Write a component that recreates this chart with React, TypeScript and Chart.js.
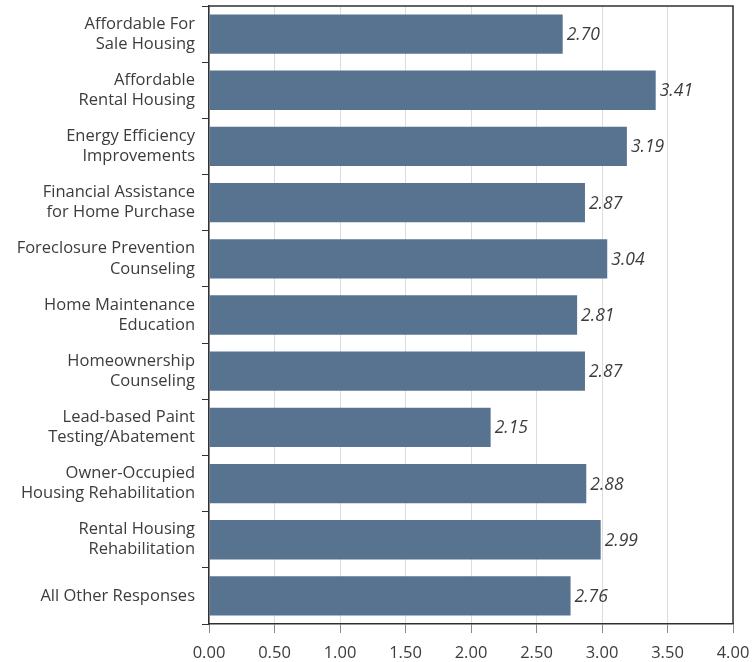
import React, { useEffect, useRef } from "react";
import { Chart, registerables } from "chart.js";

Chart.register(...registerables);

const categories: string[][] = [
  ["Affordable For", "Sale Housing"],
  ["Affordable", "Rental Housing"],
  ["Energy Efficiency", "Improvements"],
  ["Financial Assistance", "for Home Purchase"],
  ["Foreclosure Prevention", "Counseling"],
  ["Home Maintenance", "Education"],
  ["Homeownership", "Counseling"],
  ["Lead-based Paint", "Testing/Abatement"],
  ["Owner-Occupied", "Housing Rehabilitation"],
  ["Rental Housing", "Rehabilitation"],
  ["All Other Responses"],
];

const values: number[] = [2.7, 3.41, 3.19, 2.87, 3.04, 2.81, 2.87, 2.15, 2.88, 2.99, 2.76];

const xTicks: number[] = [0, 0.5, 1, 1.5, 2, 2.5, 3, 3.5, 4];

const FONT = "'Open Sans', sans-serif";
const TEXT = "#3c3c3c";
const AXIS = "#303030";

const frameAndLabels = {
  id: "frameAndLabels",
  afterDatasetsDraw(chart: any) {
    const { ctx, chartArea } = chart;
    const meta = chart.getDatasetMeta(0);
    ctx.save();
    ctx.font = `italic 17.5px ${FONT}`;
    ctx.fillStyle = TEXT;
    ctx.textAlign = "left";
    ctx.textBaseline = "middle";
    meta.data.forEach((bar: any, i: number) => {
      ctx.fillText(values[i].toFixed(2), bar.x + 4, bar.y + 1);
    });
    ctx.strokeStyle = AXIS;
    ctx.lineWidth = 1.5;
    ctx.beginPath();
    ctx.moveTo(chartArea.left, chartArea.top);
    ctx.lineTo(chartArea.right, chartArea.top);
    ctx.lineTo(chartArea.right, chartArea.bottom);
    ctx.stroke();
    ctx.restore();
  },
};

export default function App() {
  const ref = useRef<HTMLCanvasElement | null>(null);

  useEffect(() => {
    document.body.style.margin = "0";
    const canvas = ref.current;
    if (!canvas) return;
    const chart = new Chart(canvas, {
      type: "bar",
      data: {
        labels: categories,
        datasets: [
          {
            data: values,
            backgroundColor: "#587390",
            borderWidth: 0,
            barPercentage: 0.7,
            categoryPercentage: 1,
          },
        ],
      },
      options: {
        indexAxis: "y",
        animation: false,
        responsive: false,
        maintainAspectRatio: false,
        layout: { padding: { top: 6, right: 23, left: 0, bottom: 0 } },
        plugins: {
          legend: { display: false },
          tooltip: { enabled: false },
        },
        scales: {
          x: {
            min: 0,
            max: 4,
            afterBuildTicks(axis: any) {
              axis.ticks = xTicks.map((v) => ({ value: v }));
            },
            afterFit(axis: any) {
              axis.height = 38;
              axis.paddingLeft = 0;
              axis.paddingRight = 0;
            },
            grid: {
              color: "#dcdcdc",
              tickColor: "#8a8a8a",
              tickLength: 9,
              lineWidth: 1,
            },
            border: { color: AXIS, width: 1.5 },
            ticks: {
              padding: 10,
              color: TEXT,
              font: { family: FONT, size: 16.5 },
              callback: (v: any) => Number(v).toFixed(2),
            },
          },
          y: {
            afterFit(axis: any) {
              axis.width = 209;
              axis.paddingTop = 0;
              axis.paddingBottom = 0;
            },
            grid: {
              drawOnChartArea: false,
              drawTicks: true,
              offset: true,
              tickLength: 7,
              tickColor: AXIS,
            },
            border: { color: AXIS, width: 1.5 },
            ticks: {
              padding: 7,
              color: TEXT,
              font: { family: FONT, size: 16.5, lineHeight: 1.22 },
            },
          },
        },
      },
      plugins: [frameAndLabels],
    });
    return () => chart.destroy();
  }, []);

  return (
    <div style={{ position: "absolute", left: 0, top: 0, width: 756, height: 662 }}>
      <canvas ref={ref} width={756} height={662} style={{ width: 756, height: 662 }} />
    </div>
  );
}
